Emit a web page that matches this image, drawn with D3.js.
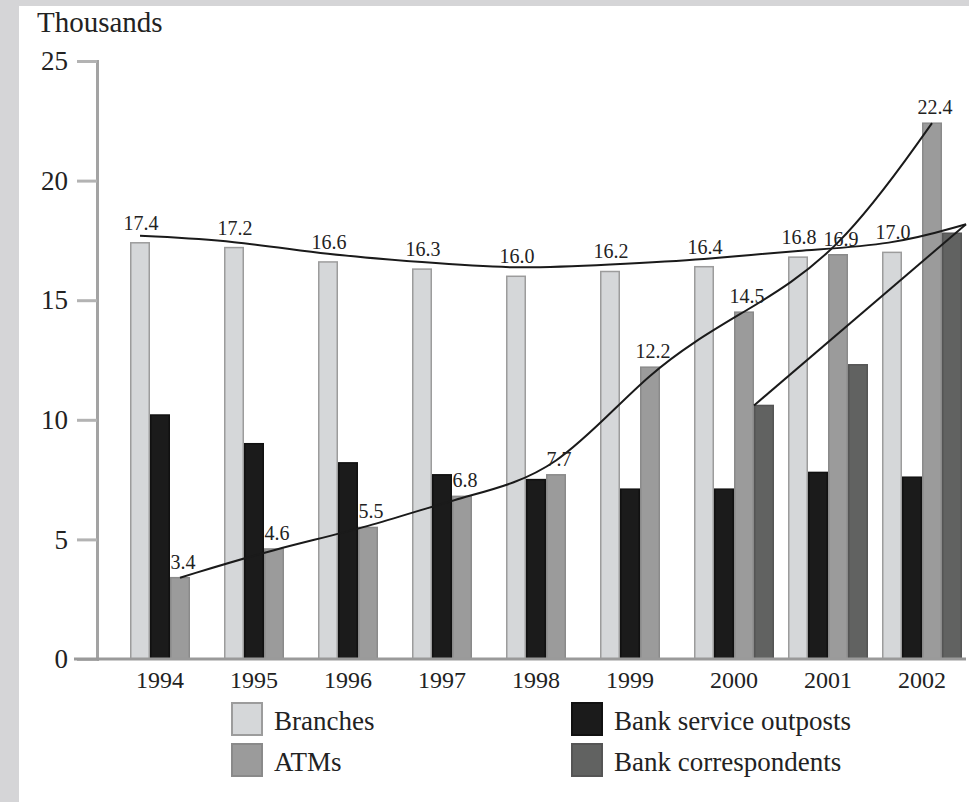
<!DOCTYPE html>
<html>
<head>
<meta charset="utf-8">
<script src="https://cdn.jsdelivr.net/npm/d3@7"></script>
<style>
  body { margin: 0; background: #d5d5d7; }
  svg { display: block; }
  text { font-family: "Liberation Serif", "DejaVu Serif", serif; fill: #222; }
</style>
</head>
<body>
<svg width="969" height="802"></svg>
<script>
// data (thousands)
var years = ["1994", "1995", "1996", "1997", "1998", "1999", "2000", "2001", "2002"];
var branches = [17.4, 17.2, 16.6, 16.3, 16.0, 16.2, 16.4, 16.8, 17.0];
var outposts = [10.2, 9.0, 8.2, 7.7, 7.5, 7.1, 7.1, 7.8, 7.6];
var atms = [3.4, 4.6, 5.5, 6.8, 7.7, 12.2, 14.5, 16.9, 22.4];
var correspondents = [null, null, null, null, null, null, 10.6, 12.3, 17.8];
var yTicks = [0, 5, 10, 15, 20, 25];

var seriesNames = ["Branches", "Bank service outposts", "ATMs", "Bank correspondents"];
var seriesValues = [branches, outposts, atms, correspondents];
var fills = ["#d5d7d9", "#1b1b1b", "#9b9b9b", "#616261"];
var strokes = ["#9c9c9c", "#111111", "#8a8a8a", "#555555"];

var svg = d3.select("svg");

// white page over the grey scan border
svg.append("rect")
  .attr("x", 19).attr("y", 6)
  .attr("width", 969 - 19).attr("height", 802 - 6)
  .attr("fill", "#ffffff");

var y = d3.scaleLinear().domain([0, 25]).range([659, 61]);

var x = d3.scaleBand()
  .domain(years)
  .range([130, 962])
  .paddingInner(14 / 94)
  .paddingOuter(0);

var xs = d3.scaleBand()
  .domain(d3.range(4))
  .range([0, x.bandwidth()]);

// y axis
var yAxis = d3.axisLeft(y)
  .tickValues(yTicks)
  .tickSize(20)
  .tickPadding(9)
  .tickFormat(d3.format("d"));

var gy = svg.append("g")
  .attr("transform", "translate(97,0)")
  .call(yAxis);
gy.select(".domain").attr("stroke", "#a3a3a3").attr("stroke-width", 3);
gy.selectAll(".tick line").attr("stroke", "#b3b3b3").attr("stroke-width", 3);
gy.selectAll(".tick text")
  .style("font-family", "Liberation Serif, DejaVu Serif, serif")
  .style("font-size", "27px")
  .attr("fill", "#222");

svg.append("text")
  .attr("x", 37).attr("y", 32)
  .style("font-size", "29px")
  .text("Thousands");

// bars
var rows = [];
years.forEach(function(yr, i) {
  seriesValues.forEach(function(vals, s) {
    if (vals[i] != null) rows.push({ year: yr, s: s, v: vals[i] });
  });
});

svg.append("g")
  .selectAll("rect")
  .data(rows)
  .enter()
  .append("rect")
  .attr("x", function(d) { return x(d.year) + xs(d.s) + 0.75; })
  .attr("y", function(d) { return y(d.v); })
  .attr("width", xs.bandwidth() - 1.5)
  .attr("height", function(d) { return y(0) - y(d.v); })
  .attr("fill", function(d) { return fills[d.s]; })
  .attr("stroke", function(d) { return strokes[d.s]; })
  .attr("stroke-width", 1.5);

// baseline
svg.append("line")
  .attr("x1", 74).attr("x2", 966)
  .attr("y1", y(0)).attr("y2", y(0))
  .attr("stroke", "#9a9a9a")
  .attr("stroke-width", 3);

// year labels centred on the bars drawn for that year
svg.append("g")
  .selectAll("text")
  .data(years)
  .enter()
  .append("text")
  .attr("x", function(d, i) {
    var n = correspondents[i] == null ? 3 : 4;
    return x(d) + n * xs.bandwidth() / 2;
  })
  .attr("y", 688)
  .attr("text-anchor", "middle")
  .style("font-size", "24px")
  .text(function(d) { return d; });

// trend lines
var cx = function(yr, s) { return x(yr) + xs(s) + xs.bandwidth() / 2; };

// correspondents: straight line from first to last value
var cIdx = correspondents.map(function(v, i) { return v == null ? -1 : i; })
  .filter(function(i) { return i >= 0; });
var c0 = cIdx[0], c1 = cIdx[cIdx.length - 1];
var cStart = [x(years[c0]) + xs(3), y(correspondents[c0])];
var cEnd = [x(years[c1]) + xs(3) + xs.bandwidth() + 4, y(correspondents[c1]) - 9];

// branch line runs through the branch tops and ends where the correspondents line ends
var branchPts = branches.map(function(v, i) { return [cx(years[i], 0), y(v) - 7]; });
branchPts.push(cEnd);

var atmPts = atms.map(function(v, i) { return [cx(years[i], 2), y(v)]; });

var smooth = d3.line().curve(d3.curveBasis);

svg.append("path")
  .attr("d", smooth(branchPts))
  .attr("fill", "none")
  .attr("stroke", "#1a1a1a")
  .attr("stroke-width", 2);

svg.append("path")
  .attr("d", smooth(atmPts))
  .attr("fill", "none")
  .attr("stroke", "#1a1a1a")
  .attr("stroke-width", 2);

svg.append("line")
  .attr("x1", cStart[0]).attr("y1", cStart[1])
  .attr("x2", cEnd[0]).attr("y2", cEnd[1])
  .attr("stroke", "#1a1a1a")
  .attr("stroke-width", 2);

// value labels
var fmt = d3.format(".1f");
svg.append("g")
  .selectAll("text")
  .data(branches)
  .enter()
  .append("text")
  .attr("x", function(d, i) { return cx(years[i], 0) + 1; })
  .attr("y", function(d) { return y(d) - 13; })
  .attr("text-anchor", "middle")
  .style("font-size", "20px")
  .attr("fill", "#444")
  .text(function(d) { return fmt(d); });

svg.append("g")
  .selectAll("text")
  .data(atms)
  .enter()
  .append("text")
  .attr("x", function(d, i) { return cx(years[i], 2) + 3; })
  .attr("y", function(d) { return y(d) - 9; })
  .attr("text-anchor", "middle")
  .style("font-size", "20px")
  .attr("fill", "#444")
  .text(function(d) { return fmt(d); });

// legend
var legend = svg.append("g");
var legendPos = [[232, 703], [572, 703], [232, 744], [572, 744]];
seriesNames.forEach(function(name, s) {
  var p = legendPos[s];
  legend.append("rect")
    .attr("x", p[0]).attr("y", p[1])
    .attr("width", 30).attr("height", 32)
    .attr("fill", fills[s])
    .attr("stroke", strokes[s])
    .attr("stroke-width", 2);
  legend.append("text")
    .attr("x", p[0] + 42).attr("y", p[1] + 27)
    .style("font-size", "27px")
    .text(name);
});
</script>
</body>
</html>
